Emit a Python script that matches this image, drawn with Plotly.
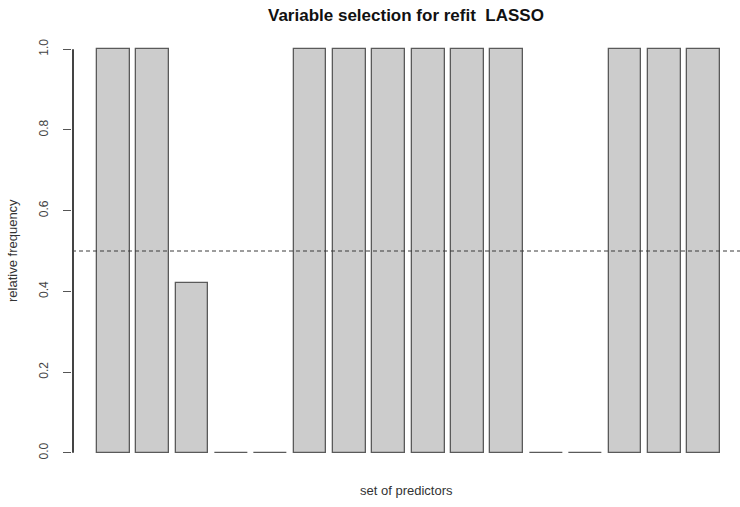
import plotly.graph_objects as go

values = [1, 1, 0.42, 0, 0, 1, 1, 1, 1, 1, 1, 0, 0, 1, 1, 1]
y_ticks = [0.0, 0.2, 0.4, 0.6, 0.8, 1.0]
y_tick_text = ["0.0", "0.2", "0.4", "0.6", "0.8", "1.0"]
threshold = 0.5
title = "Variable selection for refit  LASSO"
x_title = "set of predictors"
y_title = "relative frequency"

space = 0.2
centers = [space + 0.5 + i * (1 + space) for i in range(len(values))]
y_range = [-0.04, 1.04]

def to_paper(v):
    return (v - y_range[0]) / (y_range[1] - y_range[0])

FONT = "Liberation Sans, Arial, Helvetica, sans-serif"

fig = go.Figure()
fig.add_trace(go.Bar(
    x=centers, y=values, width=1.0,
    marker=dict(color="#cccccc", line=dict(color="#5a5a5a", width=1.3)),
    showlegend=False, hoverinfo="y",
))

fig.add_shape(type="line", xref="paper", yref="y", x0=0, x1=1, y0=threshold, y1=threshold,
              layer="above", line=dict(color="#3a3a3a", width=1, dash="4px,3px"))
fig.add_shape(type="line", xref="paper", yref="paper", x0=0.0015, x1=0.0015,
              y0=to_paper(y_ticks[0]), y1=to_paper(y_ticks[-1]),
              layer="above", line=dict(color="#444444", width=2))

fig.update_layout(
    width=740, height=507,
    margin=dict(l=72, r=0, t=33, b=38),
    plot_bgcolor="white", paper_bgcolor="white",
    font=dict(family=FONT, color="#333333"),
    bargap=0,
    xaxis=dict(range=[-0.56, 19.81], showticklabels=False, ticks="", showgrid=False,
               zeroline=False, showline=False, fixedrange=True),
    yaxis=dict(range=y_range, tickvals=y_ticks, ticktext=y_tick_text,
               tickangle=-90, ticks="outside", ticklen=8, tickcolor="#555555",
               tickfont=dict(size=12, color="#444444"), ticklabelstandoff=10,
               showgrid=False, zeroline=False, showline=False),
    annotations=[
        dict(text="<b>" + title + "</b>", xref="paper", yref="paper", x=0.5, y=1,
             yshift=18, xanchor="center", yanchor="middle", showarrow=False,
             font=dict(size=17, color="#111111")),
        dict(text=x_title, xref="paper", yref="paper", x=0.5, y=0, yshift=-21,
             xanchor="center", yanchor="middle", showarrow=False,
             font=dict(size=13, color="#333333")),
        dict(text=y_title, xref="paper", yref="paper", x=0, y=0.5, xshift=-60,
             textangle=-90, xanchor="center", yanchor="middle", showarrow=False,
             font=dict(size=13, color="#333333")),
    ],
)

fig.write_html("out.html")
